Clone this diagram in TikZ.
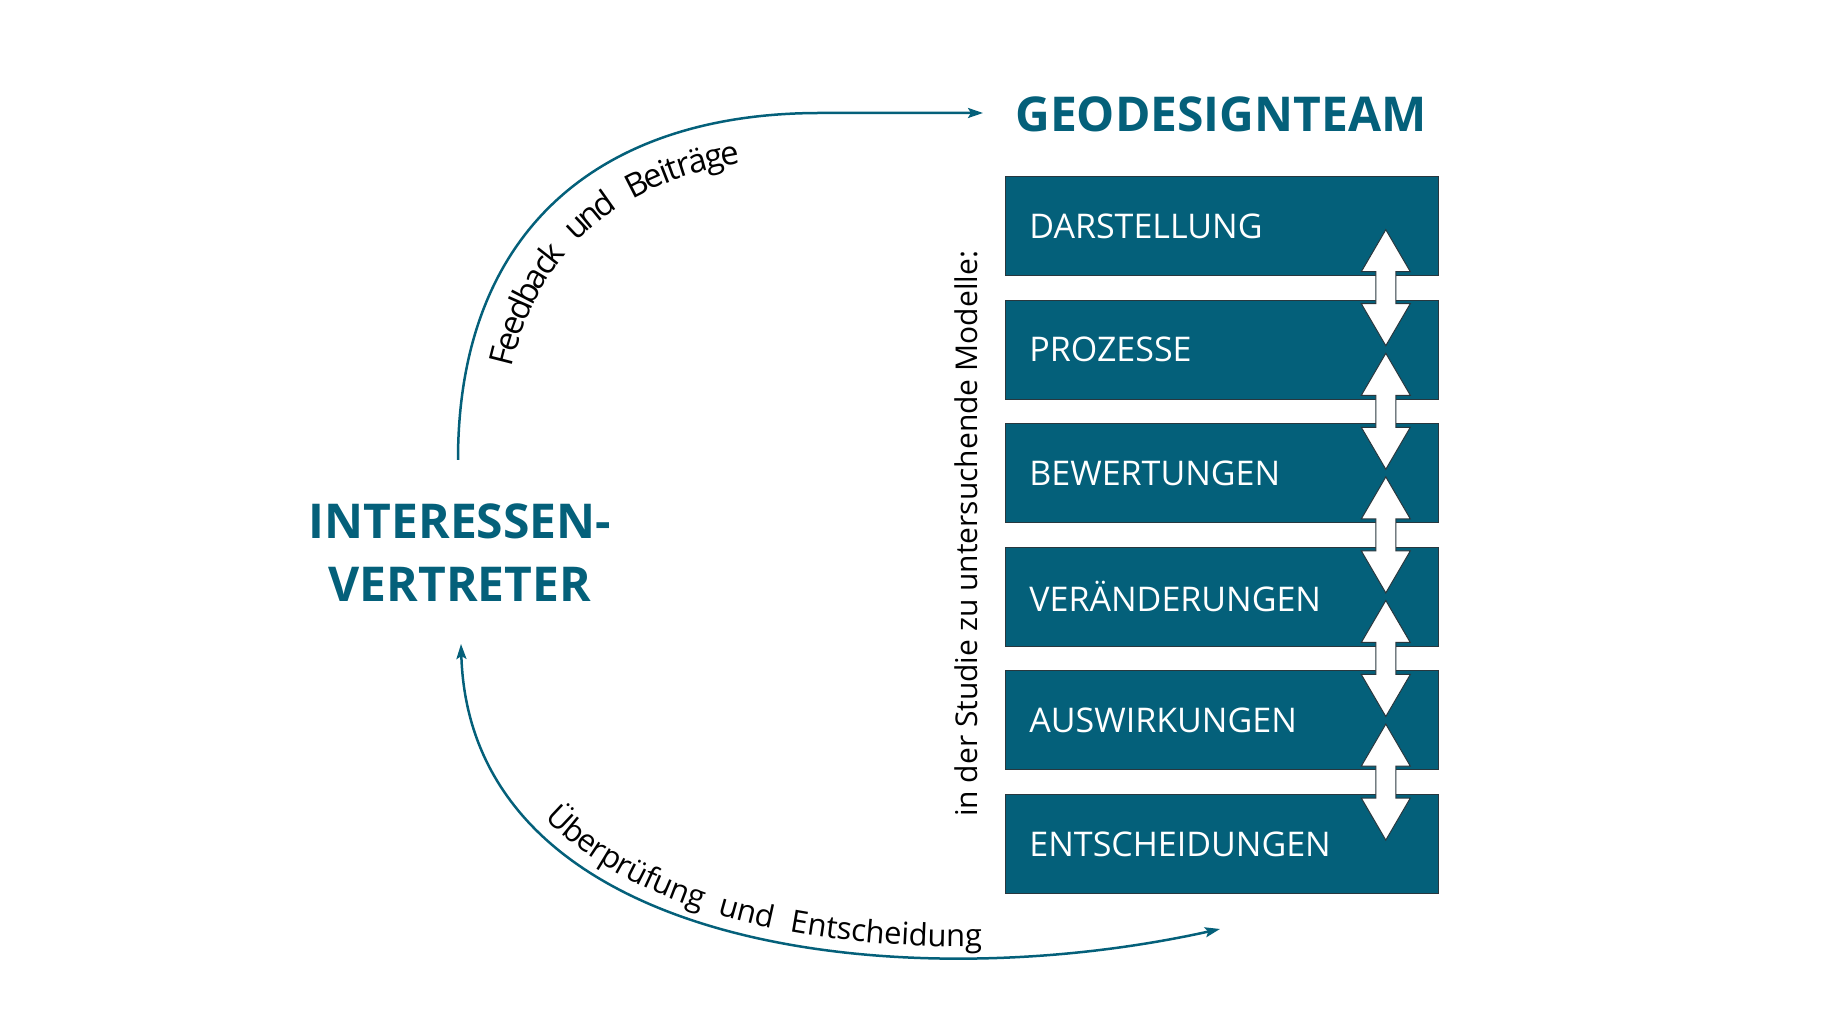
\documentclass[tikz,border=0pt]{standalone}
\usepackage{fontspec}
\setmainfont{Open Sans}
\usetikzlibrary{positioning,calc,arrows.meta,decorations.text}

\definecolor{geoteal}{RGB}{4,96,122}
\definecolor{randgrau}{RGB}{40,55,62}
\newcommand\bogenfont{\fontsize{31}{37}\selectfont}
\newcommand\innenfont{\fontsize{33}{40}\selectfont}

\tikzset{
  modell/.style={fill=geoteal, draw=randgrau, line width=0.8pt, text=white,
    minimum height=99pt, text width=385pt, inner xsep=24pt, inner ysep=0pt,
    align=left, font=\fontsize{34}{40}\selectfont},
  titel/.style={text=geoteal, inner sep=0pt, font=\fontsize{48}{63}\selectfont\bfseries},
  seitlich/.style={inner sep=0pt, font=\fontsize{30}{36}\selectfont},
  bogen/.style={draw=geoteal, line width=2.5pt},
  spitze/.tip={Stealth[length=15pt,width=10pt,inset=3pt]},
  updown/.pic={
    \draw[draw=randgrau, line width=1pt, fill=white]
    (0,58) -- (24.5,16) -- (10,16) -- (10,-16) -- (24.5,-16) --
    (0,-58) -- (-24.5,-16) -- (-10,-16) -- (-10,16) -- (-24.5,16) -- cycle;
  }
}

\begin{document}
\begin{tikzpicture}[x=1pt,y=1pt,node distance=23.8pt]
\useasboundingbox (0,0) rectangle (1828,1028);

% geodesign team
\node[titel] (team) at (1221,914) {GEODESIGNTEAM};
\node[modell, anchor=north west] (darst) at (1005,852) {DARSTELLUNG};
\node[modell, below=of darst] (proz) {PROZESSE};
\node[modell, below=of proz] (bewert) {BEWERTUNGEN};
\node[modell, below=of bewert] (veraend) {VERÄNDERUNGEN};
\node[modell, below=of veraend] (auswirk) {AUSWIRKUNGEN};
\node[modell, below=of auswirk] (entsch) {ENTSCHEIDUNGEN};

\foreach \a/\b in {darst/proz,proz/bewert,bewert/veraend,veraend/auswirk,auswirk/entsch}
  \pic at ($(\a.south east)!.5!(\b.north east)+(-53,0)$) {updown};

\node[seitlich, rotate=90] (studie) at (966,494) {in der Studie zu untersuchende Modelle:};

% stakeholders
\node[titel, align=center] (vertreter) at (460,475) {INTERESSEN-\\VERTRETER};

\coordinate (fbstart) at (458,568);
\coordinate (fbziel) at (983,915);
\coordinate (ueziel) at (461,384);
\coordinate (uestart) at (1220,99);

\draw[bogen, -spitze, postaction={decorate, decoration={text along path,
    raise=-44pt, text align={left indent=104pt},
    text={|\innenfont|Feedback{\hspace*{22pt}}und{\hspace*{22pt}}Beiträge}}}]
  (fbstart) .. controls (458,798) and (600,915) .. (820,915) -- (fbziel);

\draw[bogen, spitze-spitze, postaction={decorate, decoration={text along path,
    raise=11pt, text align={left indent=202pt},
    text={|\bogenfont|Überprüfung{\hspace*{18pt}}und{\hspace*{18pt}}Entscheidung}}}]
  (ueziel) .. controls (470,78) and (900,28) .. (uestart);
\end{tikzpicture}
\end{document}
